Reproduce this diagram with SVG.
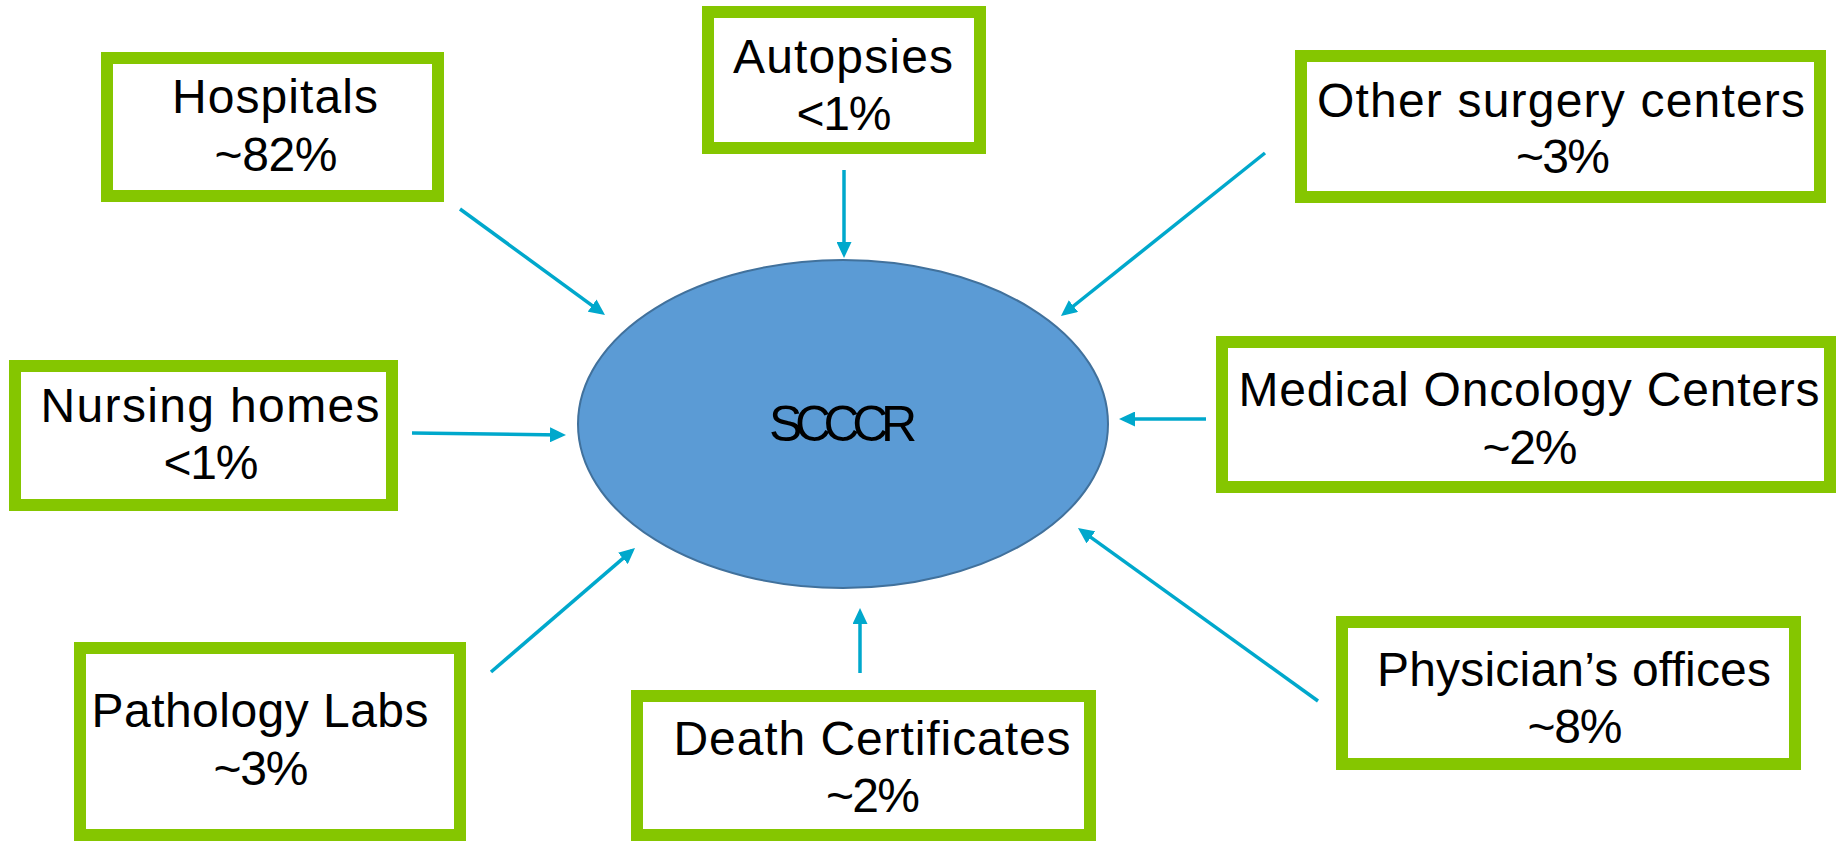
<svg xmlns="http://www.w3.org/2000/svg" width="1837" height="841" viewBox="0 0 1837 841">
<style>
.box{fill:#FFFFFF;stroke:#85C600;stroke-width:12}
.t{font-family:"Liberation Sans",Arial,sans-serif;font-size:48px;fill:#000000;text-anchor:middle}
.c{fill:none;stroke:#00A8CC;stroke-width:3.5}
</style>
<defs>
<marker id="ah" markerUnits="userSpaceOnUse" markerWidth="16" markerHeight="15" refX="12" refY="7.5" orient="auto" viewBox="0 0 16 15">
<path d="M0,0 L16,7.5 L0,15 z" fill="#00A8CC"/>
</marker>
</defs>
<rect width="1837" height="841" fill="#FFFFFF"/>
<g id="connectors">
<line class="c" x1="460" y1="209" x2="601.8" y2="312.6" marker-end="url(#ah)"/>
<line class="c" x1="844" y1="170" x2="844" y2="254" marker-end="url(#ah)"/>
<line class="c" x1="1265" y1="153" x2="1064.1" y2="313.5" marker-end="url(#ah)"/>
<line class="c" x1="412" y1="433" x2="562" y2="435" marker-end="url(#ah)"/>
<line class="c" x1="1206" y1="419" x2="1123" y2="419" marker-end="url(#ah)"/>
<line class="c" x1="1318" y1="701" x2="1081.2" y2="530.3" marker-end="url(#ah)"/>
<line class="c" x1="860" y1="673" x2="860" y2="612" marker-end="url(#ah)"/>
<line class="c" x1="491" y1="672" x2="632" y2="550.6" marker-end="url(#ah)"/>
</g>
<g id="scccr">
<ellipse cx="843" cy="424" rx="265" ry="164" fill="#5B9BD5" stroke="#41719C" stroke-width="2"/>
<text class="t" x="843" y="441" font-size="50" textLength="148" lengthAdjust="spacing" style="font-size:50px">SCCCR</text>
</g>
<g id="hospitals">
<rect class="box" x="107" y="58" width="331" height="138"/>
<text class="t" x="275" y="113" textLength="206">Hospitals</text>
<text class="t" x="276" y="171" textLength="123">~82%</text>
</g>
<g id="autopsies">
<rect class="box" x="708" y="12" width="272" height="136"/>
<text class="t" x="843" y="73" textLength="220">Autopsies</text>
<text class="t" x="844" y="130" textLength="95">&lt;1%</text>
</g>
<g id="other-surgery">
<rect class="box" x="1301" y="56" width="519" height="141"/>
<text class="t" x="1561" y="117" textLength="488">Other surgery centers</text>
<text class="t" x="1563" y="173" textLength="94">~3%</text>
</g>
<g id="nursing-homes">
<rect class="box" x="15" y="366" width="377" height="139"/>
<text class="t" x="210" y="422" textLength="339">Nursing homes</text>
<text class="t" x="211" y="479" textLength="95">&lt;1%</text>
</g>
<g id="medical-oncology">
<rect class="box" x="1222" y="342" width="608" height="145"/>
<text class="t" x="1529" y="406" textLength="581">Medical Oncology Centers</text>
<text class="t" x="1530" y="464" textLength="95">~2%</text>
</g>
<g id="pathology-labs">
<rect class="box" x="80" y="648" width="380" height="187"/>
<text class="t" x="260" y="727" textLength="337">Pathology Labs</text>
<text class="t" x="261" y="785" textLength="95">~3%</text>
</g>
<g id="death-certificates">
<rect class="box" x="637" y="696" width="453" height="139"/>
<text class="t" x="872" y="755" textLength="397">Death Certificates</text>
<text class="t" x="873" y="812" textLength="94">~2%</text>
</g>
<g id="physicians-offices">
<rect class="box" x="1342" y="622" width="453" height="142"/>
<text class="t" x="1574" y="686" textLength="394">Physician’s offices</text>
<text class="t" x="1575" y="743" textLength="95">~8%</text>
</g>
</svg>
